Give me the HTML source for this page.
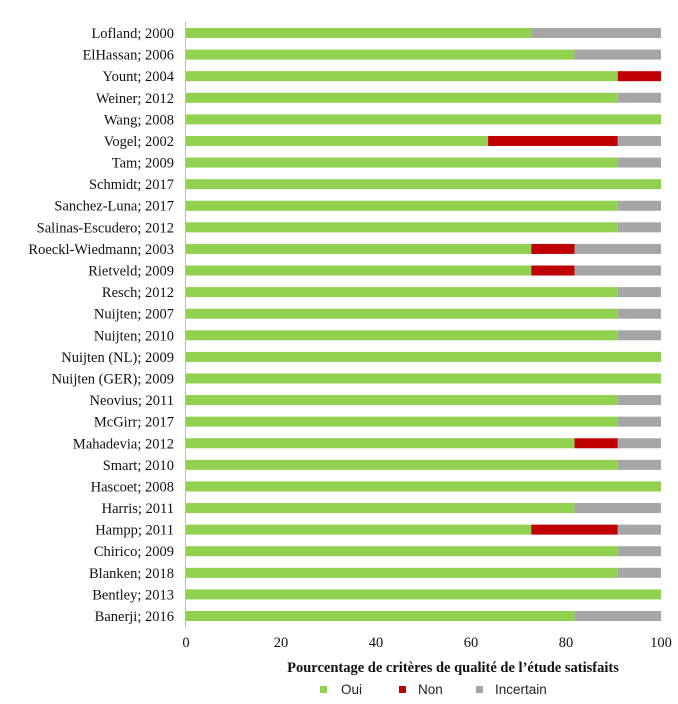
<!DOCTYPE html>
<html><head><meta charset="utf-8"><style>
body{margin:0;background:#fff;width:678px;height:704px;overflow:hidden}
svg{display:block}
.lab{font-family:"Liberation Serif",serif;font-size:14.5px;fill:#111}
</style></head><body>
<svg id="chart" width="678" height="704">
<g id="bars"></g>
<line x1="185.5" y1="22" x2="185.5" y2="628" stroke="#bbb"/>
<g id="xt"></g>
<text x="453" y="672" text-anchor="middle" font-family="Liberation Serif,serif" font-weight="bold" font-size="14.5" fill="#111">Pourcentage de critères de qualité de l’étude satisfaits</text>
<g font-family="Liberation Sans,sans-serif" font-size="13.5" fill="#222">
<g><rect x="320" y="686" width="7" height="7" fill="#92d050"/><text x="341" y="694">Oui</text></g>
<g><rect x="399" y="686" width="7" height="7" fill="#c00000"/><text x="418" y="694">Non</text></g>
<g><rect x="476" y="686" width="7" height="7" fill="#a6a6a6"/><text x="495" y="694">Incertain</text></g>
</g>
</svg>
<script>
const categories=["Lofland; 2000","ElHassan; 2006","Yount; 2004","Weiner; 2012","Wang; 2008","Vogel; 2002","Tam; 2009","Schmidt; 2017","Sanchez-Luna; 2017","Salinas-Escudero; 2012","Roeckl-Wiedmann; 2003","Rietveld; 2009","Resch; 2012","Nuijten; 2007","Nuijten; 2010","Nuijten (NL); 2009","Nuijten (GER); 2009","Neovius; 2011","McGirr; 2017","Mahadevia; 2012","Smart; 2010","Hascoet; 2008","Harris; 2011","Hampp; 2011","Chirico; 2009","Blanken; 2018","Bentley; 2013","Banerji; 2016"];
const oui=[72.7,81.8,90.9,90.9,100,63.6,90.9,100,90.9,90.9,72.7,72.7,90.9,90.9,90.9,100,100,90.9,90.9,81.8,90.9,100,81.8,72.7,90.9,90.9,100,81.8];
const non=[0,0,9.1,0,0,27.3,0,0,0,0,9.1,9.1,0,0,0,0,0,0,0,9.1,0,0,0,18.2,0,0,0,0];
const incertain=[27.3,18.2,0,9.1,0,9.1,9.1,0,9.1,9.1,18.2,18.2,9.1,9.1,9.1,0,0,9.1,9.1,9.1,9.1,0,18.2,9.1,9.1,9.1,0,18.2];
const ticks=[0,20,40,60,80,100];
const NS="http://www.w3.org/2000/svg";
const X=v=>186+v*4.75;
const Y=i=>33+i*(583/27);
const bars=document.getElementById('bars');
function mk(t,a){const e=document.createElementNS(NS,t);for(const k in a)e.setAttribute(k,a[k]);return e;}
const cols=["#92d050","#c00000","#a6a6a6"];
const series=[oui,non,incertain];
const snames=["oui","non","incertain"];
categories.forEach((c,i)=>{
  const t=mk('text',{x:174,y:Y(i)+5,'text-anchor':'end',class:'lab'});
  t.textContent=c;
  
  
  bars.appendChild(t);
  let acc=0;
  series.forEach((s,k)=>{
    if(s[i]>0){
      const r=mk('rect',{x:X(acc),y:Y(i)-5,width:X(acc+s[i])-X(acc),height:10,fill:cols[k]});
      
      
      bars.appendChild(r);
    }
    acc+=s[i];
  });
});
const xt=document.getElementById('xt');
ticks.forEach(v=>{
  const t=mk('text',{x:X(v),y:647,'text-anchor':'middle',class:'lab'});
  t.textContent=v;
  
  
  xt.appendChild(t);
});
</script>
</body></html>
